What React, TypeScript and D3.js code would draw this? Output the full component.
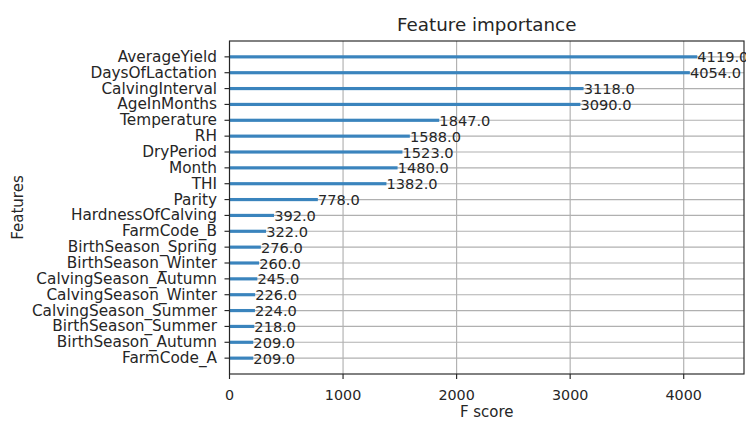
import React from "react";
import * as d3 from "d3";

const features = [
  "AverageYield",
  "DaysOfLactation",
  "CalvingInterval",
  "AgeInMonths",
  "Temperature",
  "RH",
  "DryPeriod",
  "Month",
  "THI",
  "Parity",
  "HardnessOfCalving",
  "FarmCode_B",
  "BirthSeason_Spring",
  "BirthSeason_Winter",
  "CalvingSeason_Autumn",
  "CalvingSeason_Winter",
  "CalvingSeason_Summer",
  "BirthSeason_Summer",
  "BirthSeason_Autumn",
  "FarmCode_A",
];
const scores = [4119, 4054, 3118, 3090, 1847, 1588, 1523, 1480, 1382, 778, 392, 322, 276, 260, 245, 226, 224, 218, 209, 209];
const xTicks = [0, 1000, 2000, 3000, 4000];
const title = "Feature importance";
const xLabel = "F score";
const yLabel = "Features";

const W = 746;
const H = 421;
const left = 229.5;
const right = 744;
const top = 41;
const bottom = 374;
const font = "DejaVu Sans";
const lw = 1.15;

export default function App() {
  const n = features.length;
  const maxV = d3.max(scores) as number;
  const x = d3.scaleLinear().domain([0, maxV * 1.1]).range([left, right]);
  // index 0 = bottom bar (matplotlib order)
  const y = d3.scaleLinear().domain([-1, n]).range([bottom, top]);
  const yPos = (i: number) => y(n - 1 - i);
  const barH = Math.abs(y(0) - y(0.2));

  return (
    <svg
      width={W}
      height={H}
      style={{ position: "absolute", left: 0, top: 0, background: "#fff" }}
      fontFamily={font}
    >
      <rect x={0} y={0} width={W} height={H} fill="#fff" />
      {/* grid */}
      {xTicks.map((t) => (
        <line key={"gx" + t} x1={x(t)} x2={x(t)} y1={top} y2={bottom} stroke="#b0b0b0" strokeWidth={lw} />
      ))}
      {features.map((f, i) => (
        <line key={"gy" + f} x1={left} x2={right} y1={yPos(i)} y2={yPos(i)} stroke="#b0b0b0" strokeWidth={lw} />
      ))}
      {/* bars */}
      {features.map((f, i) => (
        <rect
          key={"b" + f}
          x={x(0)}
          y={yPos(i) - barH / 2}
          width={x(scores[i]) - x(0)}
          height={barH}
          fill="#3a84bd"
        />
      ))}
      {/* value labels */}
      {features.map((f, i) => (
        <text
          key={"v" + f}
          x={x(scores[i] + 1)}
          y={yPos(i)}
          dominantBaseline="central"
          fontSize={14.6}
          fill="#262626"
        >
          {scores[i].toFixed(1)}
        </text>
      ))}
      {/* spines */}
      <rect x={left} y={top} width={right - left} height={bottom - top} fill="none" stroke="#262626" strokeWidth={lw} />
      {/* x ticks */}
      {xTicks.map((t) => (
        <g key={"xt" + t}>
          <line x1={x(t)} x2={x(t)} y1={bottom} y2={bottom + 5} stroke="#262626" strokeWidth={lw} />
          <text x={x(t)} y={400} textAnchor="middle" fontSize={14.3} fill="#262626">
            {t}
          </text>
        </g>
      ))}
      {/* y ticks */}
      {features.map((f, i) => (
        <g key={"yt" + f}>
          <line x1={left - 5} x2={left} y1={yPos(i)} y2={yPos(i)} stroke="#262626" strokeWidth={lw} />
          <text
            x={left - 12.5}
            y={yPos(i)}
            textAnchor="end"
            dominantBaseline="central"
            fontSize={15.3}
            fill="#262626"
          >
            {f}
          </text>
        </g>
      ))}
      <text x={(left + right) / 2} y={31} textAnchor="middle" fontSize={18.3} fill="#262626">
        {title}
      </text>
      <text x={(left + right) / 2} y={417} textAnchor="middle" fontSize={15} fill="#262626">
        {xLabel}
      </text>
      <text
        transform={`translate(18,${(top + bottom) / 2}) rotate(-90)`}
        textAnchor="middle"
        dominantBaseline="central"
        fontSize={15}
        fill="#262626"
      >
        {yLabel}
      </text>
    </svg>
  );
}
